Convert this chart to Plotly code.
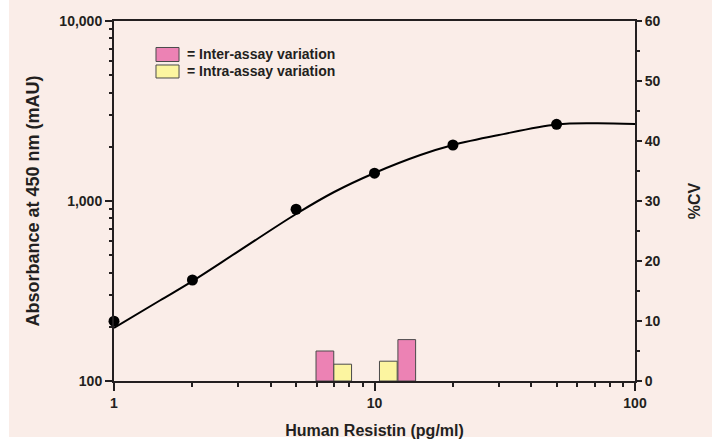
import numpy as np
import plotly.graph_objects as go

# ---- data ----
std_conc = [1, 2, 5, 10, 20, 50]                      # pg/ml
std_abs = [215, 364, 900, 1428, 2047, 2667]           # mAU

curve_conc = [1, 1.5, 2, 3, 5, 7, 10, 15, 20, 30, 50, 70, 100]
curve_abs = [197, 280, 359, 525, 847, 1122, 1431, 1801, 2047, 2326, 2661, 2702, 2678]

inter_conc = [6.45, 13.3]     # bar centres (pg/ml)
inter_cv = [5.0, 6.9]         # %CV
intra_conc = [7.55, 11.3]
intra_cv = [2.8, 3.3]

x_ticks = [1, 10, 100]
x_ticktext = ["1", "10", "100"]
y_ticks = [100, 1000, 10000]
y_ticktext = ["100", "1,000", "10,000"]

inter_name = "= Inter-assay variation"
intra_name = "= Intra-assay variation"

# ---- styles ----
INK = "#231f20"
PEACH = "#faede8"
PINK = "#ec82b4"
YELLOW = "#fcf5a0"
FONT = "Liberation Sans, Arial, sans-serif"
BAR_W = 0.068  # in decades

fig = go.Figure()

fig.add_trace(go.Bar(
    x=np.log10(inter_conc), y=inter_cv, width=BAR_W, name=inter_name,
    marker=dict(color=PINK, line=dict(color="#4a4a4a", width=1)),
    xaxis="x2", yaxis="y2", showlegend=False))
fig.add_trace(go.Bar(
    x=np.log10(intra_conc), y=intra_cv, width=BAR_W, name=intra_name,
    marker=dict(color=YELLOW, line=dict(color="#4a4a4a", width=1)),
    xaxis="x2", yaxis="y2", showlegend=False))

fig.add_trace(go.Scatter(
    x=curve_conc, y=curve_abs, mode="lines", line=dict(color="black", width=2, shape="spline"),
    showlegend=False, hoverinfo="skip"))
fig.add_trace(go.Scatter(
    x=std_conc, y=std_abs, mode="markers", marker=dict(color="black", size=11),
    showlegend=False, cliponaxis=False))

minor_x = [m * 10 ** e for e in (0, 1) for m in range(2, 10)]
minor_y = [m * 10 ** e for e in (2, 3) for m in range(2, 10)]

axis_common = dict(showline=True, linecolor=INK, linewidth=2, showgrid=False, zeroline=False,
                   automargin=False,
                   ticks="outside", tickcolor=INK, tickwidth=2,
                   tickfont=dict(family=FONT, size=14, color=INK, weight="bold"))

fig.update_layout(
    width=712, height=439,
    margin=dict(l=114, r=77, t=21, b=58, pad=0),
    paper_bgcolor="white", plot_bgcolor="rgba(0,0,0,0)",
    barmode="overlay",
    xaxis=dict(type="log", range=[0, 2], tickvals=x_ticks, ticktext=x_ticktext, ticklen=8,
               mirror=True,
               minor=dict(tickvals=minor_x, ticks="outside", ticklen=4, tickcolor=INK, tickwidth=1.5),
               title=dict(text="Human Resistin (pg/ml)", standoff=21,
                          font=dict(family=FONT, size=16, color=INK, weight="bold")),
               **axis_common),
    yaxis=dict(type="log", range=[2, 4], tickvals=y_ticks, ticktext=y_ticktext, ticklen=7,
               minor=dict(tickvals=minor_y, ticks="outside", ticklen=3, tickcolor=INK, tickwidth=1.5),
               title=dict(text="Absorbance at 450 nm (mAU)", standoff=15,
                          font=dict(family=FONT, size=18, color=INK, weight="bold")),
               **axis_common),
    xaxis2=dict(overlaying="x", range=[0, 2], visible=False),
    yaxis2=dict(overlaying="y", side="right", range=[0, 60], dtick=10, ticklen=5,
                minor=dict(dtick=5, ticks="outside", ticklen=3, tickcolor=INK, tickwidth=1.5),
                title=dict(text="%CV", standoff=29,
                           font=dict(family=FONT, size=16, color=INK, weight="bold")),
                **axis_common),
)

# peach panel behind everything (leaves a thin white strip on the left)
fig.add_shape(type="rect", xref="paper", yref="paper", x0=-0.2015, x1=1.15, y0=-0.1556, y1=1.06,
              fillcolor=PEACH, line=dict(width=0), layer="below")

# custom legend
legend_items = [(inter_name, PINK, 0.8875, 0.9264), (intra_name, YELLOW, 0.8417, 0.8778)]
for name, col, y0, y1 in legend_items:
    fig.add_shape(type="rect", xref="paper", yref="paper", x0=0.0806, x1=0.1248, y0=y0, y1=y1,
                  fillcolor=col, line=dict(color="#4a4a4a", width=1))
    fig.add_annotation(xref="paper", yref="paper", x=0.1363, y=(y0 + y1) / 2, text=name,
                       showarrow=False, xanchor="left", yanchor="middle",
                       font=dict(family=FONT, size=14, color=INK, weight="bold"))

fig.write_html("out.html", config={"displayModeBar": False},
               post_script="document.body.style.margin='0px';")
